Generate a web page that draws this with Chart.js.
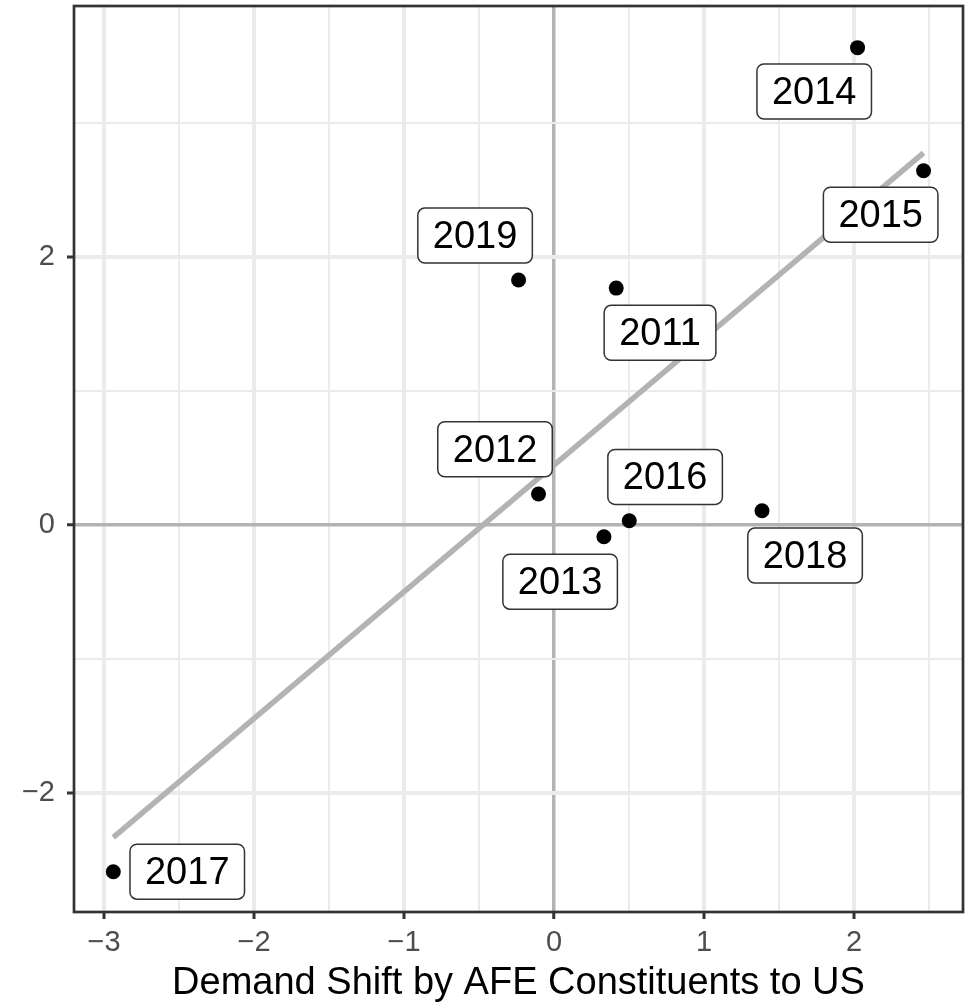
<!DOCTYPE html>
<html>
<head>
<meta charset="utf-8">
<script src="https://cdn.jsdelivr.net/npm/chart.js@4"></script>
<style>
  body { margin: 0; background: #fff; }
  #wrap { width: 965px; height: 1008px; }
</style>
</head>
<body>
<div id="wrap"><canvas id="myChart" width="965" height="1008"></canvas></div>
<script>
// years and their (demand shift, y) pairs
const years = ['2011', '2012', '2013', '2014', '2015', '2016', '2017', '2018', '2019'];
const shiftX = [0.415, -0.103, 0.333, 2.024, 2.464, 0.502, -2.938, 1.387, -0.236];
const shiftY = [1.766, 0.229, -0.09, 3.56, 2.642, 0.03, -2.59, 0.104, 1.826];

// where the repelled labels sit, in data units
const labelX = [0.707, -0.393, 0.041, 1.735, 2.178, 0.741, -2.445, 1.674, -0.526];
const labelY = [1.432, 0.563, -0.425, 3.233, 2.313, 0.357, -2.589, -0.23, 2.158];

// fitted line ends
const fitX = [-2.938, 2.464];
const fitY = [-2.333, 2.775];

const xTitle = 'Demand Shift by AFE Constituents to US';
const FONT = "'Liberation Sans', Arial, sans-serif";

const fmt = (v) => (v < 0 ? '\u2212' + Math.abs(v) : String(v));

const labelPlugin = {
  id: 'year-labels',
  afterDatasetsDraw(chart) {
    const { ctx, scales: { x, y } } = chart;
    ctx.save();
    ctx.font = '38px ' + FONT;
    ctx.textAlign = 'center';
    ctx.textBaseline = 'middle';
    years.forEach((yr, i) => {
      const cx = x.getPixelForValue(labelX[i]);
      const cy = y.getPixelForValue(labelY[i]);
      const w = ctx.measureText(yr).width + 30;
      const h = 55;
      ctx.beginPath();
      ctx.roundRect(cx - w / 2, cy - h / 2, w, h, 7);
      ctx.fillStyle = '#fff';
      ctx.fill();
      ctx.lineWidth = 1.5;
      ctx.strokeStyle = '#333';
      ctx.stroke();
      ctx.fillStyle = '#000';
      ctx.fillText(yr, cx, cy + 2);
    });
    ctx.restore();
  },
  afterDraw(chart) {
    const { ctx, chartArea: a } = chart;
    ctx.save();
    ctx.lineWidth = 2.7;
    ctx.strokeStyle = '#333';
    ctx.strokeRect(a.left, a.top, a.right - a.left, a.bottom - a.top);
    ctx.restore();
  },
};

const gridColor = (c) => (c.tick && c.tick.value === 0 ? '#b3b3b3' : '#ebebeb');

new Chart(document.getElementById('myChart').getContext('2d'), {
  type: 'scatter',
  data: {
    datasets: [
      {
        data: shiftX.map((v, i) => ({ x: v, y: shiftY[i] })),
        backgroundColor: '#000',
        borderColor: '#000',
        pointRadius: 7.5,
        borderWidth: 0,
      },
      {
        data: fitX.map((v, i) => ({ x: v, y: fitY[i] })),
        showLine: true,
        borderColor: '#b3b3b3',
        borderWidth: 5.5,
        pointRadius: 0,
        borderCapStyle: 'butt',
      },
    ],
  },
  options: {
    responsive: false,
    animation: false,
    layout: { autoPadding: false, padding: { top: 6, right: 2, left: 0, bottom: 0 } },
    plugins: {
      legend: { display: false },
      tooltip: { enabled: false },
    },
    scales: {
      x: {
        type: 'linear',
        min: -3.2,
        max: 2.727,
        border: { display: false },
        afterFit(scale) {
          scale.height = 96;
          scale.paddingLeft = 0;
          scale.paddingRight = 0;
        },
        grid: {
          color: gridColor,
          lineWidth: (c) => {
            const v = c.tick.value;
            if (v === 0) return 3.5;
            return Number.isInteger(v) ? 4 : 2;
          },
          tickColor: (c) => (Number.isInteger(c.tick.value) ? '#333' : 'rgba(0,0,0,0)'),
          tickWidth: 3,
          tickLength: 7,
        },
        ticks: {
          stepSize: 0.5,
          includeBounds: false,
          autoSkip: false,
          maxRotation: 0,
          padding: 7,
          color: '#4d4d4d',
          font: { family: FONT, size: 29 },
          callback: (v) => (Number.isInteger(v) ? fmt(v) : ''),
        },
        title: {
          display: true,
          text: xTitle,
          color: '#000',
          font: { family: FONT, size: 38 },
          padding: { top: 0, bottom: 2 },
        },
      },
      y: {
        type: 'linear',
        min: -2.89,
        max: 3.871,
        border: { display: false },
        afterFit(scale) {
          scale.width = 74;
          scale.paddingTop = 0;
          scale.paddingBottom = 0;
        },
        grid: {
          color: gridColor,
          lineWidth: (c) => {
            const v = c.tick.value;
            if (v === 0) return 3.5;
            return v % 2 === 0 ? 4 : 2;
          },
          tickColor: (c) => (c.tick.value % 2 === 0 ? '#333' : 'rgba(0,0,0,0)'),
          tickWidth: 3,
          tickLength: 7,
        },
        ticks: {
          stepSize: 1,
          includeBounds: false,
          autoSkip: false,
          padding: 12,
          color: '#4d4d4d',
          font: { family: FONT, size: 29 },
          callback: (v) => (v % 2 === 0 ? fmt(v) : ''),
        },
      },
    },
  },
  plugins: [labelPlugin],
});
</script>
</body>
</html>
